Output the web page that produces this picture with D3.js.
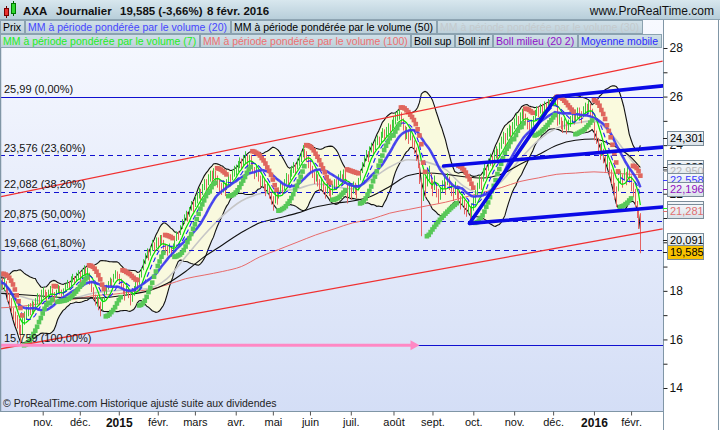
<!DOCTYPE html>
<html><head><meta charset="utf-8">
<script src="https://cdn.jsdelivr.net/npm/d3@7"></script>
<style>
body{margin:0;background:#fff;}
svg{display:block;font-family:"Liberation Sans",Arial,sans-serif;}
</style>
</head><body>
<svg id="c" width="720" height="430"></svg>
<script>
// ---------------- DATA ----------------
// Daily bars, trading-day index 0 = 1 Oct 2014 ... 345 = 8 Feb 2016
const closes = [
18.45,18.20,18.30,18.05,17.70,17.60,17.20,16.95,16.80,16.70,16.35,16.25,16.70,16.95,17.05,17.30,17.15,17.40,17.25,17.55,17.70,17.60,17.85,
17.95,17.80,17.70,17.90,18.05,17.85,17.75,17.90,18.10,18.00,17.85,17.95,18.15,18.30,18.20,18.45,18.55,18.40,18.60,18.70,
18.55,18.75,18.90,18.70,18.80,18.35,18.10,17.80,17.50,17.60,17.35,17.20,17.55,17.90,18.10,18.25,18.40,18.35,18.55,18.70,18.60,
18.40,18.25,18.00,17.85,18.05,17.80,17.65,17.75,18.05,18.30,18.20,18.55,18.80,19.15,19.35,19.55,19.45,19.70,19.90,19.75,20.00,
19.90,20.15,20.05,19.85,19.70,19.60,19.75,19.55,19.80,20.05,20.30,20.25,20.55,20.80,20.95,21.10,21.05,21.30,21.55,21.45,
21.70,21.85,22.05,21.95,22.20,22.40,22.35,22.60,22.75,22.65,22.85,22.70,22.45,22.30,22.20,22.35,22.15,22.40,22.60,22.55,22.80,22.95,
23.00,23.15,23.30,23.20,23.40,23.50,23.35,23.40,23.30,23.05,22.80,22.95,22.70,22.45,22.55,22.30,22.10,22.25,22.00,21.75,
21.60,21.90,21.80,22.05,22.30,22.15,22.40,22.65,22.55,22.80,22.95,23.10,23.00,23.25,23.40,23.55,23.75,23.60,23.50,23.30,
23.10,22.85,22.60,22.75,22.50,22.30,22.45,22.20,22.05,22.25,22.10,21.95,22.20,22.40,22.35,22.60,22.75,22.55,22.80,22.70,21.90,22.15,
22.00,22.30,22.20,22.05,22.45,22.80,23.10,23.35,23.60,23.50,23.75,23.90,23.80,24.05,24.20,24.10,24.35,24.50,24.40,24.55,24.70,24.60,24.85,
24.95,25.10,25.25,25.30,25.05,24.85,24.40,24.50,24.30,24.45,24.10,23.90,23.60,23.30,22.60,21.60,22.40,22.20,22.80,22.90,22.45,
22.20,22.50,22.10,21.85,22.00,22.30,22.45,22.20,22.60,22.40,22.15,21.95,22.25,22.05,21.80,21.60,21.75,21.40,21.30,21.50,21.05,21.35,
21.70,21.90,22.20,22.50,22.40,22.80,23.00,22.90,23.20,23.40,23.30,23.55,23.70,23.60,23.85,24.10,24.30,24.20,24.45,24.60,24.50,24.70,
24.90,25.05,24.95,25.15,25.30,25.20,25.05,24.90,24.70,24.85,25.00,25.25,25.40,25.35,25.50,25.45,25.60,25.55,25.70,25.65,25.80,
25.85,25.90,24.95,25.10,24.90,24.75,24.90,24.70,24.85,25.00,25.15,25.05,25.25,25.35,25.30,25.15,25.40,25.55,25.45,25.60,25.40,25.25,
24.45,24.30,23.95,23.70,23.85,23.50,23.20,23.40,22.95,22.70,22.40,22.10,21.85,22.45,22.70,22.50,22.85,22.60,22.95,22.70,
22.40,22.15,21.75,21.30,20.85,19.585];
const highs = [
18.70,18.55,18.50,18.40,18.10,17.90,17.70,17.30,17.15,17.00,16.85,16.60,16.95,17.15,17.35,17.45,17.50,17.60,17.55,17.70,17.90,17.85,18.05,
18.15,18.05,17.95,18.05,18.20,18.10,17.95,18.05,18.25,18.20,18.05,18.10,18.30,18.45,18.40,18.60,18.70,18.60,18.75,18.85,
18.80,18.90,19.05,18.95,18.95,18.75,18.40,18.15,17.85,17.80,17.70,17.55,17.70,18.05,18.25,18.40,18.55,18.50,18.70,18.85,18.80,
18.70,18.50,18.30,18.10,18.20,18.10,17.90,17.95,18.20,18.45,18.45,18.70,18.95,19.30,19.55,19.75,19.70,19.85,20.10,20.00,20.20,
20.20,20.30,20.30,20.10,19.95,19.85,19.95,19.80,19.95,20.20,20.45,20.45,20.70,20.95,21.15,21.30,21.25,21.45,21.70,21.70,
21.90,22.05,22.25,22.20,22.40,22.60,22.60,22.80,22.95,22.95,23.05,22.95,22.75,22.60,22.45,22.55,22.45,22.60,22.80,22.80,23.00,23.15,
23.20,23.35,23.50,23.45,23.60,23.75,23.60,23.60,23.60,23.35,23.10,23.15,23.00,22.75,22.75,22.60,22.40,22.45,22.30,22.05,
21.90,22.10,22.05,22.25,22.50,22.45,22.60,22.85,22.80,23.00,23.15,23.30,23.25,23.45,23.60,23.75,24.00,23.85,23.75,23.55,
23.40,23.15,22.90,22.95,22.80,22.60,22.65,22.50,22.30,22.45,22.35,22.20,22.40,22.60,22.60,22.80,22.95,22.80,23.00,22.95,22.40,22.35,
22.35,22.50,22.45,22.30,22.65,23.00,23.30,23.55,23.80,23.75,23.95,24.10,24.05,24.25,24.40,24.35,24.55,24.70,24.65,24.75,24.90,24.85,25.05,
25.20,25.35,25.45,25.55,25.35,25.10,24.80,24.75,24.60,24.65,24.40,24.20,23.90,23.60,23.20,22.60,22.90,22.70,23.05,23.15,22.85,
22.55,22.75,22.45,22.20,22.25,22.55,22.70,22.50,22.85,22.70,22.45,22.25,22.50,22.35,22.10,21.90,22.00,21.75,21.60,21.75,21.45,21.60,
21.90,22.15,22.45,22.75,22.70,23.05,23.25,23.15,23.45,23.65,23.55,23.80,23.95,23.85,24.10,24.35,24.55,24.50,24.70,24.85,24.80,24.95,
25.10,25.30,25.20,25.35,25.50,25.45,25.30,25.15,24.95,25.05,25.20,25.45,25.60,25.60,25.70,25.70,25.80,25.75,25.90,25.85,25.95,
25.95,25.99,25.90,25.30,25.15,25.00,25.10,24.95,25.05,25.20,25.35,25.30,25.45,25.55,25.55,25.40,25.60,25.75,25.70,25.85,25.70,25.50,
24.95,24.60,24.30,24.05,24.10,23.85,23.55,23.65,23.30,23.00,22.80,22.45,22.30,22.65,22.95,22.80,23.05,22.90,23.15,23.00,
22.75,22.45,22.20,21.70,21.35,21.20];
const lows = [
18.15,18.05,18.00,17.90,17.55,17.35,17.10,16.80,16.55,16.45,16.20,15.76,16.20,16.60,16.80,16.95,17.00,17.10,17.05,17.20,17.45,17.40,17.50,
17.70,17.65,17.50,17.65,17.85,17.75,17.55,17.70,17.90,17.85,17.70,17.80,17.95,18.10,18.05,18.20,18.35,18.25,18.40,18.50,
18.35,18.50,18.65,18.55,18.55,18.25,17.95,17.65,17.40,17.35,17.20,16.95,17.20,17.60,17.85,18.05,18.20,18.20,18.35,18.50,18.45,
18.30,18.10,17.85,17.60,17.80,17.70,17.40,17.55,17.80,18.05,18.05,18.25,18.55,18.85,19.10,19.35,19.25,19.45,19.65,19.55,19.75,
19.70,19.85,19.90,19.70,19.55,19.45,19.55,19.40,19.55,19.80,20.05,20.10,20.30,20.55,20.75,20.90,20.85,21.05,21.30,21.25,
21.45,21.60,21.80,21.75,21.95,22.15,22.10,22.35,22.50,22.45,22.60,22.45,22.25,22.05,21.95,22.05,21.90,22.15,22.35,22.30,22.55,22.70,
22.75,22.90,23.05,23.00,23.15,23.25,23.10,23.15,23.10,22.85,22.60,22.70,22.50,22.25,22.30,22.10,21.90,22.00,21.80,21.55,
21.30,21.60,21.55,21.80,22.05,21.95,22.15,22.40,22.35,22.55,22.70,22.85,22.80,23.00,23.15,23.30,23.50,23.40,23.30,23.05,
22.90,22.65,22.40,22.50,22.30,22.10,22.20,22.00,21.80,22.00,21.90,21.75,21.95,22.15,22.15,22.35,22.50,22.35,22.55,22.45,21.60,21.80,
21.75,22.00,21.95,21.80,22.15,22.55,22.85,23.10,23.35,23.30,23.50,23.70,23.60,23.80,24.00,23.90,24.10,24.30,24.20,24.35,24.45,24.40,24.60,
24.70,24.85,25.00,25.05,24.85,24.60,24.20,24.25,24.05,24.20,23.90,23.65,23.35,23.05,22.40,20.25,21.70,21.85,22.30,22.55,22.20,
21.90,22.15,21.85,21.60,21.75,22.05,22.20,21.95,22.35,22.15,21.90,21.70,21.95,21.80,21.55,21.35,21.50,21.15,21.05,21.20,20.80,21.00,
21.30,21.60,21.95,22.20,22.15,22.50,22.75,22.65,22.95,23.15,23.05,23.30,23.45,23.35,23.60,23.85,24.05,23.95,24.20,24.35,24.25,24.45,
24.65,24.80,24.75,24.90,25.05,25.00,24.85,24.65,24.40,24.60,24.80,25.00,25.20,25.15,25.30,25.25,25.40,25.35,25.50,25.45,25.60,
25.60,25.65,24.80,24.85,24.65,24.50,24.65,24.45,24.60,24.75,24.90,24.85,25.00,25.10,25.05,24.90,25.15,25.30,25.20,25.35,25.15,25.05,
24.20,24.05,23.70,23.40,23.55,23.25,22.90,23.10,22.70,22.40,22.10,21.75,21.45,22.10,22.40,22.25,22.55,22.35,22.65,22.45,
22.10,21.85,21.45,21.00,20.55,19.55];

// Slow volume-weighted averages, every 10 trading days
const maIdx   = [0,10,20,30,40,50,60,70,80,90,100,110,120,130,140,150,160,170,180,190,200,210,220,230,240,250,260,270,280,290,300,310,320,330,340,345];
const vwma100 = [17.3,17.35,17.45,17.55,17.65,17.8,17.85,17.95,18.05,18.25,18.5,18.65,18.8,19.0,19.4,19.7,20.0,20.3,20.55,20.8,20.95,21.2,21.35,21.5,21.65,21.85,22.05,22.25,22.5,22.65,22.8,22.85,22.9,22.85,22.8,22.78];
const vwma50  = [17.9,17.85,17.8,17.75,17.7,17.7,17.75,17.85,18.0,18.3,18.8,19.4,19.9,20.4,20.8,21.0,21.2,21.45,21.6,21.7,21.9,22.3,22.75,22.85,22.8,22.7,22.65,22.8,23.2,23.6,24.0,24.2,24.25,24.0,23.5,23.08];
const vwma30  = [18.0,17.8,17.6,17.55,17.7,17.9,18.0,18.05,18.1,18.5,19.4,20.3,21.1,21.7,22.0,22.1,22.2,22.4,22.3,22.2,22.6,23.1,23.4,23.3,23.0,22.3,22.0,22.5,23.4,24.2,24.7,24.9,25.0,24.4,23.4,22.95];

// Time axis
const monthIdx    = [23,43,64,85,105,127,147,167,189,212,233,255,277,298,320,340];
const monthLabels = ["nov.","déc.","2015","févr.","mars","avr.","mai","juin","juil.","août","sept.","oct.","nov.","déc.","2016","févr."];
const yTicks = [14,15,16,17,18,19,20,21,22,23,24,25,26,27,28];

// Fibonacci retracement
const fibValues = [25.99,23.576,22.082,20.875,19.668,15.759];
const fibLabels = ["25,99 (0,00%)","23,576 (23,60%)","22,082 (38,20%)","20,875 (50,00%)","19,668 (61,80%)","15,759 (100,00%)"];

// Drawn trend lines: [index, value] end points
const redChannel = [[[0,21.87],[357,27.46]], [[0,15.61],[357,20.55]]];
const blueLines  = [[[253,20.78],[300,26.0]], [[300,26.0],[357,26.44]], [[253,20.78],[357,21.45]], [[239,23.14],[357,23.92]]];
const arrowLine  = [[0,15.759],[226,15.759]];

// Right-hand value tags
const tagValues = [24.301,23.082,22.95,22.558,22.196,21.422,21.281,20.091,19.585];
const tagTexts  = ["24,301","23,082","22,950","22,558","22,196","21,422","21,281","20,091","19,585"];
const tagColors = ["#000","#000","#b8b8b8","#3c3cff","#9010c0","#22ee22","#e07070","#000","#000"];

// Legend
const legendRow1 = ["Prix","MM à période pondérée par le volume (20)","MM à période pondérée par le volume (50)","MM à période pondérée par le volume (30)"];
const legendCol1 = ["#000","#4646ff","#000","#c4cacd"];
const legendRow2 = ["MM à période pondérée par le volume (7)","MM à période pondérée par le volume (100)","Boll sup","Boll inf","Boll milieu (20 2)","Moyenne mobile"];
const legendCol2 = ["#22ee22","#ee7070","#000","#000","#9010c8","#2a2aff"];

// ---------------- INDICATORS derived from the price series ----------------
const N = Math.min(closes.length, highs.length, lows.length);
function sma(a, n){ return a.map((_, i) => d3.mean(a.slice(Math.max(0, i-n+1), i+1))); }
function psd(a, n){ return a.map((_, i) => { const w = a.slice(Math.max(0,i-n+1), i+1); const m = d3.mean(w); return Math.sqrt(d3.mean(w, v => (v-m)*(v-m))); }); }
const cl = closes.slice(0,N), hi = highs.slice(0,N), lo = lows.slice(0,N);
const mid20 = sma(cl,20), sd20 = psd(cl,20);
const bUp = mid20.map((m,i)=>m+2*sd20[i]), bDn = mid20.map((m,i)=>m-2*sd20[i]);
const ma7 = sma(cl,7), ma20 = sma(cl,20), ma10 = sma(cl,10);
function psar(h,l){
  const out=[]; let up = true, af=0.02, ep=h[0], sar=l[0];
  out.push({v:sar,up});
  for(let i=1;i<h.length;i++){
    sar = sar + af*(ep-sar);
    if(up){
      sar = Math.min(sar, l[i-1], l[Math.max(0,i-2)]);
      if(l[i] < sar){ up=false; sar=ep; ep=l[i]; af=0.02; }
      else if(h[i] > ep){ ep=h[i]; af=Math.min(af+0.02,0.2); }
    } else {
      sar = Math.max(sar, h[i-1], h[Math.max(0,i-2)]);
      if(h[i] > sar){ up=true; sar=ep; ep=h[i]; af=0.02; }
      else if(l[i] < ep){ ep=l[i]; af=Math.min(af+0.02,0.2); }
    }
    out.push({v:sar,up});
  }
  return out;
}
const sar = psar(hi, lo);

// ---------------- LAYOUT ----------------
const PL=0, PR=663, PT=20, PB=411;
const x = d3.scaleLinear().domain([0,357.2]).range([0,663]);
const y = d3.scaleLinear().domain([14,28]).range([388,48]);
const svg = d3.select("#c");
const defs = svg.append("defs");
function grad(id, c1, c2){ const g=defs.append("linearGradient").attr("id",id).attr("x1",0).attr("y1",0).attr("x2",0).attr("y2",1);
  g.append("stop").attr("offset","0%").attr("stop-color",c1); g.append("stop").attr("offset","100%").attr("stop-color",c2); }
grad("bg","#f7f9ff","#d4def6");
grad("hdr","#d8e7ee","#b6cdd9");
grad("leg","#d0e0e8","#bdd0da");
grad("tag","#f4f7fa","#d9e1e8");
defs.append("clipPath").attr("id","clip").append("rect").attr("x",1).attr("y",PT).attr("width",PR-1).attr("height",PB-PT);

svg.append("rect").attr("width",720).attr("height",430).attr("fill","#fff");
svg.append("rect").attr("x",0).attr("y",PT).attr("width",PR).attr("height",PB-PT).attr("fill","url(#bg)");

const g = svg.append("g").attr("clip-path","url(#clip)");
const idx = d3.range(N);

// Bollinger envelope
g.append("path").datum(idx).attr("fill","#fafadc").attr("opacity",0.95)
  .attr("d", d3.area().x(i=>x(i)).y0(i=>y(bDn[i])).y1(i=>y(bUp[i])));
const ln = arr => d3.line().x(i=>x(i)).y(i=>y(arr[i]));
g.append("path").datum(idx).attr("fill","none").attr("stroke","#111").attr("stroke-width",1.1).attr("d", ln(bUp));
g.append("path").datum(idx).attr("fill","none").attr("stroke","#111").attr("stroke-width",1.1).attr("d", ln(bDn));

// slow averages
const slow = (arr,col,w) => g.append("path").datum(maIdx.map((d,k)=>[d,arr[k]])).attr("fill","none")
  .attr("stroke",col).attr("stroke-width",w).attr("d", d3.line().x(d=>x(d[0])).y(d=>y(d[1])).curve(d3.curveMonotoneX));
slow(vwma100,"#e86a6a",1);
slow(vwma30,"#c6c6c6",1.6);
slow(vwma50,"#111",1.1);

// Fibonacci lines
fibValues.forEach((v,k)=>{
  g.append("line").attr("x1",0).attr("x2",PR).attr("y1",Math.round(y(v))+0.5).attr("y2",Math.round(y(v))+0.5)
   .attr("stroke", "#1010d0").attr("stroke-width",1.2)
   .attr("stroke-dasharray", (k===0||k===fibValues.length-1) ? null : "5,4");
});

// price bars
g.append("g").selectAll("line").data(idx).join("line")
  .attr("x1",i=>Math.round(x(i))+0.5).attr("x2",i=>Math.round(x(i))+0.5)
  .attr("y1",i=>y(hi[i])).attr("y2",i=>y(lo[i]))
  .attr("stroke",i=> (i>0 && cl[i]<cl[i-1]) ? "#e46262" : "#3cc83c").attr("stroke-width",1);

// fast averages
g.append("path").datum(idx).attr("fill","none").attr("stroke","#9a1ad0").attr("stroke-width",1).attr("stroke-dasharray","3,2").attr("d", ln(mid20));
g.append("path").datum(idx).attr("fill","none").attr("stroke","#00e000").attr("stroke-width",1.2).attr("d", ln(ma7));
g.append("path").datum(idx).attr("fill","none").attr("stroke","#1a1aff").attr("stroke-width",1.1).attr("stroke-dasharray","5,3").attr("d", ln(ma10));
g.append("path").datum(idx).attr("fill","none").attr("stroke","#3a3af0").attr("stroke-opacity",0.9).attr("stroke-width",2.6).attr("d", ln(ma20));

// parabolic SAR
g.append("g").selectAll("rect").data(idx).join("rect")
  .attr("x",i=>x(i)-2.3).attr("y",i=>y(sar[i].v)-2.3).attr("width",4.6).attr("height",4.6)
  .attr("fill",i=> sar[i].up ? "#58c858" : "#e0665e");

// trend lines
redChannel.forEach(s=> g.append("line").attr("x1",x(s[0][0])).attr("y1",y(s[0][1])).attr("x2",x(s[1][0])).attr("y2",y(s[1][1]))
  .attr("stroke","#f03030").attr("stroke-width",1.3));
blueLines.forEach(s=> g.append("line").attr("x1",x(s[0][0])).attr("y1",y(s[0][1])).attr("x2",x(s[1][0])).attr("y2",y(s[1][1]))
  .attr("stroke","#0a0ae6").attr("stroke-width",3.6).attr("stroke-linecap","round"));

// pink arrow
const ay = y(arrowLine[0][1]), ax1 = x(arrowLine[1][0]);
g.append("line").attr("x1",x(arrowLine[0][0])).attr("x2",ax1-8).attr("y1",ay).attr("y2",ay).attr("stroke","#ff88c4").attr("stroke-width",3);
g.append("path").attr("d",`M${ax1-9},${ay-5}L${ax1},${ay}L${ax1-9},${ay+5}Z`).attr("fill","#ff88c4");

// fib labels
fibValues.forEach((v,k)=> g.append("text").attr("x",4).attr("y",y(v)-3.5).attr("font-size",11).attr("fill","#111").text(fibLabels[k]));

// copyright
svg.append("text").attr("x",3).attr("y",407).attr("font-size",10.5).attr("fill","#222").text("© ProRealTime.com  Historique ajusté suite aux dividendes");

// frame lines
svg.append("line").attr("x1",0.5).attr("x2",0.5).attr("y1",PT).attr("y2",PB).attr("stroke","#8096a6").attr("stroke-width",1.5);
svg.append("line").attr("x1",PR+0.5).attr("x2",PR+0.5).attr("y1",PT).attr("y2",430).attr("stroke","#8096a6");
svg.append("line").attr("x1",718.5).attr("x2",718.5).attr("y1",PT).attr("y2",430).attr("stroke","#8096a6");
svg.append("line").attr("x1",0).attr("x2",PR).attr("y1",PB+0.5).attr("y2",PB+0.5).attr("stroke","#8096a6");

// right axis
const ya = svg.append("g").attr("transform",`translate(${PR+0.5},0)`)
  .call(d3.axisRight(y).tickValues(yTicks).tickSize(4).tickPadding(2).tickFormat(v => v%2===0 ? String(v) : ""));
ya.select(".domain").remove();
ya.selectAll("line").attr("stroke","#222");
ya.selectAll("text").attr("font-size",12).attr("font-family","Liberation Sans, Arial").attr("fill","#111");

// bottom axis
const xa = svg.append("g").attr("transform",`translate(0,${PB+0.5})`)
  .call(d3.axisBottom(x).tickValues(monthIdx).tickSize(4).tickPadding(3).tickFormat((d,k)=>monthLabels[k]));
xa.select(".domain").remove();
xa.selectAll("line").attr("stroke","#555");
xa.selectAll("text").attr("font-family","Liberation Sans, Arial").attr("fill","#111")
  .attr("font-weight",(d,k)=>/^\d{4}$/.test(monthLabels[k]) ? "bold" : "normal")
  .attr("font-size",(d,k)=>/^\d{4}$/.test(monthLabels[k]) ? 12 : 11);

// value tags (stacked like the platform draws them)
tagValues.forEach((v,k)=>{
  const yy = y(v);
  svg.append("line").attr("x1",PR).attr("x2",PR+4).attr("y1",Math.round(yy)+0.5).attr("y2",Math.round(yy)+0.5).attr("stroke",tagColors[k]==="#000"?"#222":tagColors[k]);
  const last = k===tagValues.length-1;
  svg.append("rect").attr("x",667.5).attr("y",Math.round(yy-7)+0.5).attr("width",36).attr("height",14)
    .attr("fill", last ? "#f8c200" : "url(#tag)").attr("stroke","#7b8c99");
  svg.append("text").attr("x",670).attr("y",yy+4).attr("font-size",11).attr("fill",tagColors[k]).text(tagTexts[k]);
});

// header
svg.append("rect").attr("x",0).attr("y",0).attr("width",720).attr("height",20).attr("fill","url(#hdr)");
svg.append("line").attr("x1",0).attr("x2",720).attr("y1",19.5).attr("y2",19.5).attr("stroke","#8ea4b2");
svg.append("line").attr("x1",6.5).attr("x2",6.5).attr("y1",6).attr("y2",18).attr("stroke","#600");
svg.append("rect").attr("x",4.5).attr("y",8.5).attr("width",4).attr("height",7).attr("fill","#e83030").attr("stroke","#700");
svg.append("line").attr("x1",13.5).attr("x2",13.5).attr("y1",1).attr("y2",16).attr("stroke","#060");
svg.append("rect").attr("x",11.5).attr("y",3.5).attr("width",4).attr("height",10).attr("fill","#30d830").attr("stroke","#070");
const ht = svg.append("text").attr("y",15).attr("font-size",11.5).attr("font-weight","bold").attr("fill","#111");
ht.append("tspan").attr("x",23).text("AXA");
ht.append("tspan").attr("x",56).text("Journalier");
ht.append("tspan").attr("x",120).text("19,585 (-3,66%)");
ht.append("tspan").attr("x",207).text("8 févr. 2016");
svg.append("text").attr("x",714).attr("y",15).attr("text-anchor","end").attr("font-size",12).attr("fill","#111").text("www.ProRealTime.com");

// legend rows
function legendRow(items, cols, top){
  let xx = 0;
  items.forEach((t,k)=>{
    const gr = svg.append("g");
    const r = gr.append("rect").attr("y",top+0.5).attr("height",13).attr("fill","url(#leg)").attr("stroke","#8ba2b0");
    const tx = gr.append("text").attr("x",xx+3).attr("y",top+11).attr("font-size",10.5).attr("fill",cols[k]).text(t);
    const w = Math.ceil(tx.node().getComputedTextLength()) + 6;
    r.attr("x",xx+0.5).attr("width",w-1);
    xx += w;
  });
}
legendRow(legendRow1, legendCol1, 20);
legendRow(legendRow2, legendCol2, 34);
</script>
</body></html>
